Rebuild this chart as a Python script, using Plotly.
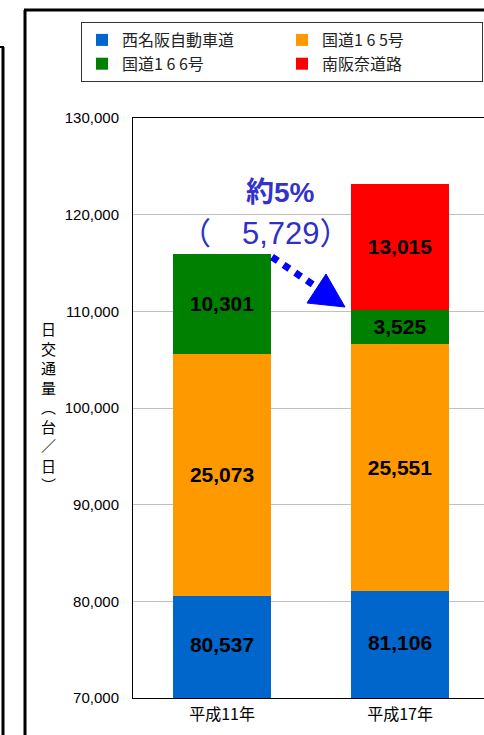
import plotly.graph_objects as go

# data
years = ["平成11年", "平成17年"]
series_names = ["西名阪自動車道", "国道1 6 5号", "国道1 6 6号", "南阪奈道路"]
series_colors = ["#0066CC", "#FF9900", "#008000", "#FF0000"]
nishimeihan = [80537, 81106]
route165 = [25073, 25551]
route166 = [10301, 3525]
minamihanna = [None, 13015]
y_min, y_max = 70000, 130000
y_ticks = [70000, 80000, 90000, 100000, 110000, 120000, 130000]
y_title = "日交通量（台／日）"
increase_pct = "約5%"
increase_val = "（　5,729）"

W, H = 484, 735
L, T, B = 133, 118, 37
plot_w = W - L
plot_h = H - T - B

label_font = dict(family="Liberation Sans, Arial", size=21, color="black", weight="bold")


def px_x(p):
    return (p - L) / plot_w


def px_y(p):
    return (H - B - p) / plot_h


fig = go.Figure()
all_series = [nishimeihan, route165, route166, minamihanna]
for i, (name, vals, col) in enumerate(zip(series_names, all_series, series_colors)):
    fig.add_trace(go.Bar(
        x=years,
        y=vals,
        name=name,
        marker=dict(color=col, line=dict(width=0)),
        # bottom segment is labelled separately (its centre lies below the axis)
        text=[f"{v:,}" if (v and i > 0) else "" for v in vals],
        textposition="inside",
        insidetextanchor="middle",
        textangle=0,
        constraintext="none",
        textfont=label_font,
        hoverinfo="name+y",
    ))

# labels for the bottom segment, centred in its visible part
fig.add_trace(go.Scatter(
    x=years,
    y=[(y_min + v) / 2 for v in nishimeihan],
    mode="text",
    text=[f"{v:,}" for v in nishimeihan],
    textposition="middle center",
    textfont=label_font,
    showlegend=False,
    hoverinfo="skip",
    cliponaxis=False,
))

# keep the right edge of the plot at the window edge
unit = 178
x_max = -0.5 + plot_w / unit

fig.update_layout(
    width=W, height=H,
    barmode="stack",
    bargap=0.444,
    margin=dict(l=L, r=0, t=T, b=B, autoexpand=False),
    paper_bgcolor="white",
    plot_bgcolor="white",
    font=dict(family="Noto Sans CJK JP", color="black"),
    showlegend=True,
    legend=dict(
        orientation="h",
        x=px_x(81), xanchor="left",
        y=px_y(22), yanchor="top",
        entrywidth=155,
        bordercolor="#333333", borderwidth=1,
        font=dict(family="Noto Sans CJK JP", size=16, color="#222222"),
        traceorder="normal",
    ),
    xaxis=dict(
        range=[-0.5, x_max],
        showline=True, linecolor="black", linewidth=1, mirror=True,
        ticks="", showgrid=False, ticklabelstandoff=2,
        tickfont=dict(family="Noto Sans CJK JP", size=16, color="black"),
    ),
    yaxis=dict(
        range=[y_min, y_max],
        tickvals=y_ticks,
        tickformat=",",
        showline=True, linecolor="black", linewidth=1,
        showgrid=True, gridcolor="#C0C0C0", gridwidth=1,
        ticks="", ticklabelstandoff=10,
        tickfont=dict(family="Liberation Sans, Arial", size=15, color="black"),
        zeroline=False,
    ),
)

# vertical axis title
fig.add_annotation(
    text="<br>".join(ch for ch in y_title.replace("（", "︵").replace("）", "︶")),
    xref="paper", yref="paper", x=px_x(48), y=px_y(406),
    xanchor="center", yanchor="middle",
    showarrow=False, align="center",
    font=dict(family="Noto Sans CJK JP", size=15, color="black"),
)

# increase annotation
fig.add_annotation(
    text=f"<b>{increase_pct}</b>",
    xref="paper", yref="paper", x=px_x(280), y=px_y(192),
    xanchor="center", yanchor="middle",
    showarrow=False,
    font=dict(family="Liberation Sans, Noto Sans CJK JP", size=28, color="#3333CC"),
)
fig.add_annotation(
    text=increase_val,
    xref="paper", yref="paper", x=px_x(265), y=px_y(234),
    xanchor="center", yanchor="middle",
    showarrow=False,
    font=dict(family="Liberation Sans, Noto Sans CJK JP", size=31, color="#3030C4"),
)

# dotted arrow
fig.add_shape(type="line", xref="paper", yref="paper",
              x0=px_x(272), y0=px_y(257), x1=px_x(318), y1=px_y(288),
              line=dict(color="#0000FF", width=7, dash="dot"))
tri = [(326, 274), (307, 303), (345, 307)]
path = "M " + " L ".join(f"{px_x(a)},{px_y(b)}" for a, b in tri) + " Z"
fig.add_shape(type="path", xref="paper", yref="paper", path=path,
              fillcolor="#0000FF", line=dict(color="#0000FF", width=1))

# outer frames
fig.add_shape(type="line", xref="paper", yref="paper",
              x0=px_x(25), y0=px_y(10), x1=px_x(25), y1=px_y(740),
              line=dict(color="black", width=3))
fig.add_shape(type="line", xref="paper", yref="paper",
              x0=px_x(24), y0=px_y(10), x1=px_x(490), y1=px_y(10),
              line=dict(color="black", width=3))
fig.add_shape(type="line", xref="paper", yref="paper",
              x0=px_x(3), y0=px_y(47), x1=px_x(3), y1=px_y(740),
              line=dict(color="black", width=3))
fig.add_shape(type="line", xref="paper", yref="paper",
              x0=px_x(-5), y0=px_y(47), x1=px_x(4), y1=px_y(47),
              line=dict(color="black", width=2))

fig.write_html("out.html", config={"displayModeBar": False},
               post_script="document.body.style.margin='0';")
